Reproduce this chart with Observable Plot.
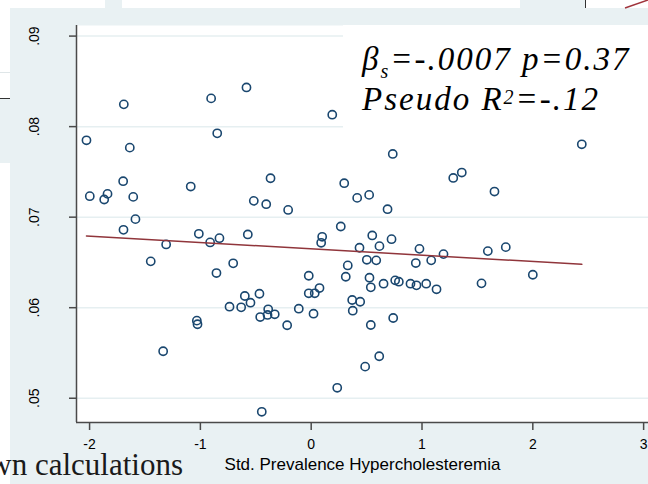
<!DOCTYPE html>
<html>
<head>
<meta charset="utf-8">
<script src="https://cdn.jsdelivr.net/npm/d3@7"></script>
<script src="https://cdn.jsdelivr.net/npm/@observablehq/plot@0.6"></script>
<style>
  html, body { margin: 0; padding: 0; background: #ffffff; overflow: hidden; }
  #wrap { position: relative; width: 648px; height: 484px; overflow: hidden; background: #ffffff; }
  .bg { position: absolute; }
  #chart { position: absolute; left: 0; top: 0; }
  #chart svg g[aria-label="x-axis label"] { font-size: 17px; }
  #overlay { position: absolute; left: 0; top: 0; pointer-events: none; }
</style>
</head>
<body>
<div id="wrap">
  <div class="bg" style="left:10px;top:8px;width:638px;height:476px;background:#e9f1f3"></div>
  <div class="bg" style="left:105px;top:0;width:17px;height:8px;background:#e9f1f3"></div>
  <div class="bg" style="left:520px;top:0;width:65px;height:8px;background:#e9f1f3"></div>
  <div class="bg" style="left:585px;top:0;width:1px;height:8px;background:#333"></div>
  <div class="bg" style="left:0;top:72px;width:10px;height:1px;background:#dfe6e8"></div>
  <div class="bg" style="left:0;top:98px;width:10px;height:1px;background:#333"></div>
  <div class="bg" style="left:0;top:99px;width:10px;height:64px;background:#e9f1f3"></div>
  <div id="chart"></div>
  <svg id="overlay" width="648" height="484">
    <line x1="625" y1="8" x2="648" y2="0" stroke="#a0343c" stroke-width="1.5"/>
    <rect x="343" y="25" width="305" height="104" fill="#ffffff"/>
    <text x="362" y="70" font-family="'Liberation Serif', 'Times New Roman', serif" font-style="italic" font-size="33" letter-spacing="2" fill="#000">β<tspan font-size="20" dy="8">s</tspan><tspan dy="-8">=-.0007 p=0.37</tspan></text>
    <text x="362" y="110" font-family="'Liberation Serif', 'Times New Roman', serif" font-style="italic" font-size="33" letter-spacing="2" fill="#000">Pseudo R<tspan font-size="20" dy="-6">2</tspan><tspan dy="6">=-.12</tspan></text>
    <text x="183" y="475" text-anchor="end" font-family="'Liberation Serif', 'Times New Roman', serif" font-size="31" fill="#1a1a1a">Source: own calculations</text>
  </svg>
</div>
<script>
// Std. prevalence of hypercholesteremia (x) and outcome rate (y)
const prevalence = [
  -2.028,-1.998,-1.868,-1.838,-1.691,-1.697,-1.637,-1.606,-1.586,-1.694,
  -1.448,-1.309,-1.087,-1.014,-0.912,-0.828,-0.903,-0.848,-0.855,-0.704,
  -0.572,-0.518,-0.406,-0.367,-0.208,-0.584,-0.599,-0.467,-0.022,-0.022,
  0.032,0.075,0.099,0.090,0.190,0.736,0.298,0.415,0.523,0.689,
  1.282,1.359,1.654,2.442,0.267,0.551,0.725,0.436,0.616,0.977,
  1.194,1.594,1.756,0.502,0.587,0.944,1.083,0.330,2.000,0.312,
  0.526,0.538,0.653,0.758,0.791,0.896,0.950,1.038,1.131,1.537,
  0.370,0.442,0.375,0.740,0.538,0.614,0.487,0.235,-0.737,-0.632,
  -0.548,-0.460,-0.388,-0.394,-0.329,-0.217,-0.112,0.021,-1.032,-1.026,
  -1.336,-0.446
];
const rate = [
  0.07849,0.07232,0.07195,0.07257,0.08246,0.07397,0.07768,0.07224,0.06978,0.06860,
  0.06512,0.06699,0.07338,0.06816,0.06721,0.06768,0.08312,0.07926,0.06383,0.06490,
  0.06809,0.07180,0.07143,0.07430,0.07080,0.08433,0.06129,0.06154,0.06353,0.06159,
  0.06159,0.06217,0.06783,0.06717,0.08132,0.07698,0.07375,0.07213,0.07246,0.07088,
  0.07433,0.07493,0.07283,0.07805,0.06897,0.06798,0.06757,0.06662,0.06680,0.06650,
  0.06592,0.06625,0.06669,0.06529,0.06523,0.06493,0.06523,0.06467,0.06364,0.06342,
  0.06331,0.06225,0.06265,0.06302,0.06287,0.06265,0.06247,0.06265,0.06203,0.06269,
  0.06085,0.06066,0.05967,0.05886,0.05809,0.05464,0.05349,0.05115,0.06011,0.06004,
  0.06055,0.05897,0.05982,0.05920,0.05927,0.05806,0.05989,0.05934,0.05857,0.05817,
  0.05519,0.04850
];
// fitted line endpoints
const fitX = [-2.028, 2.442];
const fitY = [0.06792, 0.06479];
// ticks
const xTicks = [-2, -1, 0, 1, 2, 3];
const yTicks = [0.05, 0.06, 0.07, 0.08, 0.09];
const xDomain = [-2.118, 3.044];
const yDomain = [0.04732, 0.09117];

const points = prevalence.map((x, i) => ({x, y: rate[i]}));
const fit = fitX.map((x, i) => ({x, y: fitY[i]}));

const chart = Plot.plot({
  width: 648,
  height: 484,
  marginLeft: 76,
  marginRight: 0,
  marginTop: 25,
  marginBottom: 62,
  style: {background: "transparent", fontFamily: "'Liberation Sans', Arial, sans-serif", fontSize: "14px", color: "#000", overflow: "visible"},
  x: {domain: xDomain},
  y: {domain: yDomain},
  marks: [
    Plot.frame({fill: "#ffffff", stroke: "none"}),
    Plot.gridY(yTicks, {stroke: "#e6eff1", strokeOpacity: 1, strokeWidth: 1.5}),
    Plot.ruleX([xDomain[0]], {stroke: "#4a4a4a", strokeWidth: 1.5}),
    Plot.ruleY([yDomain[0]], {stroke: "#4a4a4a", strokeWidth: 1.5}),
    Plot.axisY(yTicks, {tickSize: 7, tickRotate: -90, tickPadding: 31, tickFormat: d => d.toFixed(2).replace(/^0/, ""), stroke: "#4a4a4a", strokeWidth: 1.5, label: null, fill: "#000"}),
    Plot.axisX(xTicks, {tickSize: 8, tickPadding: 9, tickFormat: d => String(d), stroke: "#4a4a4a", strokeWidth: 1.5, fill: "#000",
      label: "Std. Prevalence Hypercholesteremia", labelAnchor: "center", labelArrow: "none", labelOffset: 47}),
    Plot.dot(points, {x: "x", y: "y", r: 4.1, stroke: "#1a476f", strokeWidth: 1.6, fill: "none"}),
    Plot.line(fit, {x: "x", y: "y", stroke: "#90353b", strokeWidth: 1.5})
  ]
});
document.getElementById("chart").appendChild(chart);
</script>
</body>
</html>
